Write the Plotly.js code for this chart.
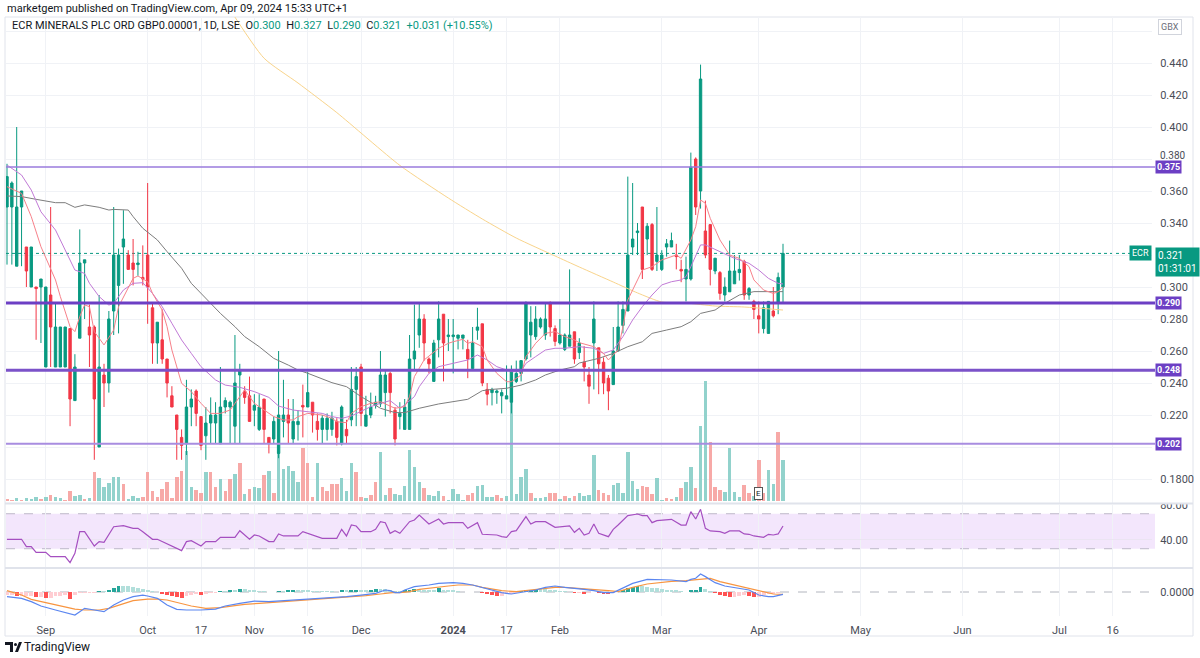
<!DOCTYPE html>
<html><head><meta charset="utf-8">
<script src="https://cdn.plot.ly/plotly-3.0.1.min.js"></script>
<style>html,body{margin:0;padding:0;background:#fff;}#chart{width:1200px;height:658px;}</style>
</head><body><div id="chart"></div>
<script>
// ---------------- DATA ----------------
const firstDay = '2023-08-21';
const holidays = ['2023-08-28','2023-12-25','2023-12-26','2024-01-01','2024-03-29','2024-04-01','2024-05-06','2024-05-27'];
const tickDates = ['2023-09-01','2023-10-02','2023-10-17','2023-11-01','2023-11-16','2023-12-01','2024-01-02','2024-01-17','2024-02-01','2024-03-01','2024-04-02','2024-05-01','2024-06-03','2024-07-01','2024-07-16'];
const tickText = ['Sep','Oct','17','Nov','16','Dec','<b>2024</b>','17','Feb','Mar','Apr','May','Jun','Jul','16'];

const open = [0.350,0.350,0.313,0.350,0.325,0.300,0.300,0.300,0.250,0.295,
0.250,0.250,0.250,0.274,0.229,0.268,0.315,0.275,0.275,0.200,
0.245,0.240,0.285,0.301,0.325,0.320,0.315,0.314,0.306,0.320,
0.287,0.265,0.267,0.255,0.232,0.220,0.206,0.202,0.225,0.235,
0.219,0.207,0.215,0.215,0.202,0.225,0.225,0.213,0.245,0.235,
0.232,0.223,0.211,0.230,0.206,0.205,0.196,0.216,0.220,0.205,
0.214,0.226,0.225,0.228,0.216,0.211,0.211,0.211,0.216,0.202,
0.211,0.217,0.236,0.250,0.213,0.220,0.226,0.227,0.234,0.246,
0.223,0.219,0.211,0.211,0.255,0.270,0.280,0.255,0.241,0.267,
0.283,0.269,0.269,0.268,0.268,0.261,0.249,0.273,0.277,0.236,
0.234,0.234,0.232,0.230,0.228,0.241,0.246,0.255,0.270,0.269,
0.275,0.270,0.290,0.274,0.265,0.261,0.263,0.272,0.259,0.253,
0.245,0.265,0.262,0.253,0.243,0.239,0.260,0.276,0.285,0.325,
0.334,0.350,0.330,0.339,0.316,0.311,0.325,0.325,0.320,0.311,
0.305,0.305,0.380,0.360,0.335,0.339,0.310,0.309,0.295,0.297,
0.302,0.309,0.316,0.295,0.291,0.282,0.274,0.271,0.285,0.290,
0.300];
const high = [0.377,0.366,0.400,0.360,0.325,0.325,0.300,0.305,0.300,0.350,
0.290,0.275,0.275,0.274,0.258,0.336,0.317,0.289,0.276,0.295,
0.252,0.285,0.350,0.324,0.348,0.323,0.330,0.322,0.326,0.365,
0.290,0.278,0.286,0.255,0.238,0.220,0.211,0.242,0.236,0.236,
0.219,0.225,0.231,0.228,0.250,0.231,0.229,0.270,0.252,0.238,
0.244,0.233,0.233,0.230,0.206,0.219,0.260,0.242,0.230,0.230,
0.223,0.239,0.247,0.228,0.221,0.220,0.221,0.222,0.218,0.226,
0.217,0.250,0.250,0.252,0.232,0.234,0.232,0.260,0.248,0.247,
0.225,0.228,0.230,0.270,0.289,0.290,0.283,0.256,0.267,0.291,
0.283,0.280,0.280,0.270,0.270,0.267,0.275,0.287,0.277,0.240,
0.237,0.236,0.236,0.251,0.251,0.254,0.254,0.291,0.288,0.288,
0.281,0.290,0.291,0.276,0.280,0.271,0.311,0.272,0.268,0.263,
0.250,0.291,0.262,0.256,0.245,0.275,0.291,0.291,0.369,0.365,
0.340,0.350,0.340,0.340,0.350,0.323,0.330,0.334,0.327,0.317,
0.319,0.384,0.381,0.439,0.354,0.339,0.318,0.310,0.306,0.329,
0.320,0.320,0.317,0.300,0.292,0.291,0.291,0.291,0.300,0.309,
0.327];
const low = [0.314,0.314,0.313,0.313,0.300,0.300,0.267,0.265,0.250,0.250,
0.250,0.250,0.250,0.213,0.229,0.268,0.280,0.250,0.192,0.200,
0.225,0.234,0.270,0.271,0.302,0.311,0.301,0.307,0.301,0.277,
0.252,0.252,0.252,0.231,0.225,0.192,0.192,0.195,0.213,0.213,
0.198,0.192,0.202,0.202,0.202,0.221,0.202,0.202,0.202,0.227,
0.216,0.213,0.210,0.202,0.196,0.202,0.193,0.206,0.202,0.202,
0.204,0.206,0.225,0.209,0.204,0.202,0.204,0.207,0.201,0.201,
0.202,0.213,0.213,0.213,0.213,0.218,0.224,0.225,0.219,0.221,
0.201,0.211,0.211,0.211,0.248,0.262,0.254,0.246,0.241,0.256,
0.241,0.260,0.246,0.261,0.261,0.243,0.249,0.267,0.238,0.226,
0.226,0.227,0.221,0.230,0.221,0.240,0.241,0.254,0.256,0.267,
0.274,0.267,0.269,0.263,0.264,0.260,0.263,0.252,0.255,0.241,
0.227,0.236,0.233,0.233,0.223,0.239,0.260,0.271,0.285,0.320,
0.320,0.305,0.320,0.310,0.310,0.310,0.319,0.325,0.311,0.303,
0.291,0.304,0.345,0.349,0.318,0.301,0.308,0.292,0.291,0.297,
0.302,0.304,0.292,0.292,0.280,0.271,0.271,0.271,0.281,0.283,
0.290];
const close = [0.369,0.365,0.350,0.360,0.310,0.325,0.299,0.305,0.300,0.275,
0.275,0.275,0.275,0.230,0.250,0.315,0.317,0.270,0.230,0.250,
0.240,0.280,0.320,0.320,0.330,0.311,0.311,0.315,0.305,0.300,
0.265,0.278,0.255,0.240,0.225,0.211,0.201,0.225,0.230,0.221,
0.201,0.215,0.220,0.220,0.225,0.229,0.228,0.240,0.248,0.231,
0.216,0.226,0.225,0.211,0.202,0.216,0.220,0.220,0.215,0.216,
0.216,0.225,0.234,0.220,0.211,0.218,0.218,0.218,0.206,0.225,
0.207,0.236,0.244,0.221,0.220,0.225,0.228,0.245,0.245,0.234,
0.205,0.221,0.225,0.255,0.260,0.280,0.265,0.252,0.265,0.280,
0.265,0.270,0.270,0.270,0.270,0.255,0.265,0.275,0.240,0.233,
0.236,0.235,0.234,0.232,0.248,0.246,0.254,0.290,0.278,0.280,
0.280,0.280,0.275,0.266,0.270,0.270,0.270,0.255,0.265,0.250,
0.238,0.280,0.252,0.240,0.235,0.260,0.275,0.286,0.320,0.330,
0.335,0.311,0.338,0.311,0.320,0.320,0.327,0.329,0.319,0.310,
0.311,0.375,0.350,0.430,0.320,0.311,0.318,0.296,0.300,0.310,
0.310,0.311,0.295,0.299,0.286,0.280,0.287,0.291,0.282,0.306,
0.321];

// volume (relative units) and its colour direction (1 = up, 0 = down)
const volume = [1.7,1,2.7,1,3.3,1.7,3.7,1.7,3.7,5.7,
4,2.7,1,9.7,5,5.7,1.7,2.7,29,22.7,
14.3,18.3,23.7,24.3,16.7,1.7,5,3,3.7,29.3,
9.7,3.7,11.7,19,2.7,24.3,30,50.3,13.7,10.7,
8.3,29.3,29,14.3,22.3,10,22.3,27,38,6.7,
11.7,13.7,13,26,30,8.3,48.3,32.3,35,30,
19.3,53.3,37.7,3.7,38.3,14.3,10,16.7,16.7,22.7,
9.7,37.7,29.3,4.3,2.7,5.7,19.3,49,5.7,13.3,
6.7,6,15,51,34,18.7,12.7,6,5.3,10,
5.3,1,12,7,1,6,7.7,15,15.7,3.7,
3.7,6,2.7,5,116,6.7,24.3,32,7.7,3.3,
2.7,3.7,8.3,8.3,1.7,5,3.3,5,8.3,5,
6,46,11,8.3,6,16,17.7,8.3,49,20.3,
12,15,14.3,6.7,23.3,1,3.3,1.7,4.3,13.3,
19.3,33.7,12.7,75,120,59.3,14.3,11,8.7,52.7,
9.3,4.3,16,8.3,5,41,8,31,17,69,
41];
const volUp = [0,0,1,0,1,1,1,0,1,0, 1,1,0,0,1,1,0,1,0,1,
1,1,1,1,0,1,1,1,0,0, 0,0,0,0,0,0,0,1,1,0,
0,1,0,0,1,0,0,1,0,1, 0,1,1,0,1,0,1,1,1,1,
1,0,0,0,1,0,0,0,0,1, 1,1,0,0,1,0,0,1,1,0,
1,1,1,1,1,1,0,1,1,1, 0,1,1,1,1,0,0,1,1,1,
1,0,0,1,1,1,1,1,0,1, 1,1,0,0,1,0,1,0,1,1,
1,1,0,0,0,1,1,1,1,1, 1,0,0,0,1,1,0,0,1,0,
1,1,0,1,1,0,0,0,1,1, 1,1,0,0,1,0,0,1,1,0,
1];

// moving averages (bar index, price), sampled at their visible vertices
const maFastX = [0,3,5,7,10,11,13,14,15,16,17,18,20,22,23,25,26,27,29,30,32,33,34,36,38,40,42,44,46,47,49,51,53,55,57,59,60,62,65,67,68,70,71,73,75,77,80,82,83,84,86,89,91,92,94,95,96,98,99,101,103,104,106,107,109,111,113,115,117,118,121,123,124,126,127,128,130,131,133,135,138,139,141,142,143,144,145,147,149,151,153,154,156,158,159,160];
const maFastV = [0.3627,0.3585,0.344,0.3252,0.3044,0.294,0.2752,0.2721,0.2815,0.2888,0.2877,0.2721,0.2638,0.2731,0.2877,0.2992,0.3054,0.3069,0.3033,0.296,0.2856,0.2752,0.2606,0.2398,0.2346,0.2273,0.221,0.221,0.2231,0.2273,0.2356,0.2273,0.2231,0.219,0.2169,0.2169,0.219,0.221,0.22,0.2179,0.2158,0.2152,0.221,0.2252,0.2273,0.2283,0.2242,0.2252,0.2315,0.244,0.2544,0.2617,0.2648,0.2658,0.2673,0.2648,0.2658,0.2627,0.2544,0.246,0.2408,0.2408,0.245,0.2565,0.2648,0.271,0.2721,0.269,0.2669,0.2652,0.2627,0.2585,0.2544,0.2606,0.2752,0.2919,0.3044,0.3106,0.3127,0.3169,0.32,0.3179,0.3294,0.3377,0.3544,0.3523,0.3429,0.3294,0.32,0.3179,0.3127,0.3044,0.2981,0.296,0.297,0.3002];
const maMidX = [0,3,5,7,10,12,14,16,17,19,21,22,24,26,28,30,32,34,36,38,40,43,45,48,51,54,56,59,62,65,67,69,71,73,75,77,79,81,82,84,85,87,89,92,95,97,99,101,104,106,107,109,111,113,115,118,121,123,125,127,129,131,133,135,137,139,140,141,143,144,147,150,153,155,157,159,160];
const maMidV = [0.3762,0.37,0.3606,0.347,0.3356,0.3231,0.3106,0.3085,0.3023,0.294,0.2887,0.2898,0.2981,0.3023,0.3027,0.296,0.2877,0.2773,0.2669,0.2585,0.2502,0.2419,0.2387,0.2373,0.2346,0.231,0.2256,0.2231,0.2221,0.221,0.219,0.2179,0.2194,0.2221,0.2252,0.2273,0.229,0.2242,0.2263,0.2315,0.2377,0.246,0.2502,0.2523,0.2544,0.2575,0.2544,0.2502,0.2471,0.2471,0.2523,0.2565,0.2606,0.2617,0.2617,0.2627,0.2617,0.2585,0.2606,0.269,0.2794,0.2877,0.295,0.3013,0.3033,0.3044,0.3065,0.3127,0.3263,0.3263,0.3221,0.3179,0.3148,0.3106,0.3054,0.3023,0.3019];
const maSlowX = [0,3,6,10,12,14,16,19,21,22,25,26,28,31,33,36,38,41,44,47,49,52,55,58,60,62,67,70,73,77,80,82,85,89,92,95,98,100,103,106,109,111,114,117,118,122,125,128,131,133,136,139,141,143,146,148,151,154,157,160];
const maSlowV = [0.3569,0.3565,0.3548,0.3527,0.3527,0.3498,0.3513,0.3498,0.3481,0.3485,0.3481,0.344,0.3367,0.3294,0.3221,0.3117,0.3023,0.2929,0.2835,0.2752,0.269,0.2627,0.2554,0.2512,0.2481,0.2461,0.2402,0.2377,0.2315,0.2242,0.2215,0.2215,0.2242,0.2269,0.2283,0.2298,0.2352,0.236,0.2367,0.2387,0.2419,0.245,0.2481,0.2502,0.2525,0.2554,0.2585,0.2627,0.2658,0.271,0.2731,0.2752,0.2783,0.2835,0.2856,0.2898,0.295,0.2971,0.2971,0.2971];
const maLongX = [45,53,60,68,81,91,98,105,113,118,125,130,135,140,146,152,160];
const maLongV = [0.478,0.443,0.4275,0.409,0.376,0.3556,0.3425,0.3306,0.3194,0.3125,0.3031,0.2963,0.2906,0.29,0.2881,0.2875,0.2856];

// key price levels
const levels = [0.375, 0.290, 0.248, 0.202];
const lastPrice = 0.321;

// RSI
const rsiX = [0,3,4,5,6,8,9,12,13,14,15,16,18,19,20,22,24,26,27,28,30,31,36,37,38,40,41,43,44,47,48,50,51,52,54,55,56,57,60,61,65,68,69,70,71,72,73,75,76,77,78,79,80,81,83,84,85,87,89,90,91,94,95,97,98,101,102,103,104,105,107,108,109,111,113,115,116,117,118,119,120,121,122,124,125,126,128,130,131,132,133,134,136,137,139,140,141,142,143,144,145,147,148,149,151,152,153,154,156,157,158,159,160];
const rsiV = [40.8,40.8,32.4,32.4,25.9,25.9,20.9,20.9,14.1,24.8,49.5,49.5,33.1,38.1,37.3,55.2,56.4,53.3,53.3,49.5,40.8,40.8,27.8,38.1,39.2,33.1,38.1,38.1,43.0,43.0,50.6,40.8,45.7,44.6,38.1,38.1,46.9,44.6,44.6,49.5,41.9,41.9,52.2,44.6,57.1,56,49.5,49.5,52.2,60.9,59.8,47.6,50.6,47.6,60.9,62.9,68.6,58.3,64,58.3,59.8,59.8,53.3,59.8,46.5,45.7,43.8,43,49.5,50.6,66.7,58.3,60.9,60.9,54.5,56,56,48.8,53.3,45.7,47.6,58.3,47.6,43.8,52.2,57.1,67.8,69.7,67.8,67.8,59.8,62.1,62.9,63.6,57.1,57.1,72.4,64,75.1,53.3,50.3,49.5,47.6,50.3,50.3,46.9,46.5,44.6,43,46.5,45.7,46.9,56];

// MACD (units of 0.001)
const macdX = [0,3,5,7,10,12,14,15,16,18,20,22,24,26,28,29,31,33,35,37,40,43,45,48,51,54,56,59,62,65,67,70,73,76,78,79,80,81,82,84,87,89,92,94,96,98,100,102,104,106,109,111,113,115,117,119,121,123,125,127,129,132,135,137,140,141,142,143,144,146,148,150,153,155,157,158,160];
const macdV = [-5.8,-7.9,-12.1,-17.5,-22.5,-25.8,-28.8,-24.6,-20.4,-22.5,-24.6,-16.3,-10,-5.8,-3.8,-5,-7.9,-16.3,-21.7,-22.5,-22.5,-21.3,-17.5,-14.2,-11.3,-12.1,-11.3,-10.8,-9.2,-7.9,-7.1,-5.8,-3.8,-1.7,2.5,1.7,-0.8,-0.8,2.5,6.7,8.75,10.8,11.7,10.8,8.75,5.8,2.5,-0.8,-2.5,-0.8,2.5,5.8,7.5,5.8,5,3.3,1.7,-0.8,-0.8,4.6,10.8,15.8,15.8,15,12.9,15.8,17.1,22.5,19.2,11.7,7.5,5.8,2.5,-3.75,-5.8,-5.8,-2.9];
const signalX = [0,3,5,8,11,14,16,19,21,23,26,29,31,33,36,38,41,44,47,49,52,55,58,60,63,66,69,71,74,77,79,80,81,83,85,88,91,93,96,98,100,102,105,107,110,113,115,118,121,124,126,129,132,135,137,140,143,145,147,150,153,156,158,160];
const signalV = [1.7,-3.8,-9.2,-13.3,-17.5,-21.3,-22.5,-22.5,-20.4,-16.3,-10.8,-8.8,-8.8,-10,-14.2,-17.5,-20.4,-19.6,-17.1,-15.4,-14.2,-12.9,-12.1,-10.8,-10,-8.8,-7.5,-5.8,-4.6,-2.5,-0.8,-0.4,-0.8,0.4,3.3,5.8,7.5,8.75,8.75,5.8,3.3,1.7,0.4,1.7,3.3,5.8,5.8,4.6,3.3,1.7,0.4,5.8,10,12.5,13.3,14.2,15.8,17.1,12.9,8.75,4.6,0.4,-2.5,-2.9];
const histV = [-3.75,-3.75,-5,-5,-5,-5,-6.25,-6.25,-7.5,-7.5,
-5,-5,-3.75,-8.75,-3.75,-1.25,-1.25,-1.25,-1.25,1.25,
1.25,2.5,4.6,7.5,7.5,7.5,6.25,5,3.75,2.5,
1.25,0.6,-2.5,-3.75,-5,-6.25,-7.5,-5,-3.75,-2.5,
-3.75,-2.5,-1.25,-1.25,1.25,1.25,2.5,2.5,3.75,3.75,
2.5,1.9,1.25,1.25,0.6,0.6,1.25,1.25,1.9,2.5,
2.5,2.5,2.5,1.25,1.25,1.25,1.25,1.25,0.6,1.9,
1.9,2.5,3.1,2.5,2.5,3.1,3.75,3.75,3.75,2.5,
1.25,
1.25,1.9,2.5,3.75,3.75,3.1,2.5,2.5,4.4,2.5,
1.9,1.9,1.25,0.6,0.6,-0.6,-0.6,-1.25,-2.5,-3.75,
-4.4,-4.4,-2.5,-2.5,-1.25,1.25,2.5,3.1,3.75,3.75,
3.75,2.5,1.9,1.25,1.25,0.6,-1.25,-1.25,-1.9,-1.25,
-0.6,-1.25,-1.9,-2.5,-1.25,0.6,2.5,5,6.25,7.5,
6.9,6.25,5,4.4,3.75,3.1,2.5,1.9,1.25,-0.6,
2.5,3.1,6.25,3.75,1.25,-1.25,-3.75,-5,-6.25,-6.25,
-5,-3.75,-5,-6.25,-6.25,-3.75,-2.5,-1.9,-1.25,-0.6];

// ---------------- calendar (trading days) ----------------
function tradingDays(start, count) {
  const out = []; const d = new Date(start + 'T00:00:00Z');
  while (out.length < count) {
    const s = d.toISOString().slice(0,10); const wd = d.getUTCDay();
    if (wd !== 0 && wd !== 6 && holidays.indexOf(s) < 0) out.push(s);
    d.setUTCDate(d.getUTCDate() + 1);
  }
  return out;
}
const cal = tradingDays(firstDay, 260);
const tickVals = tickDates.map(d => cal.indexOf(d));
const idx = close.map((_, i) => i);

// ---------------- geometry helpers ----------------
const W = 1200, H = 658;
const px = x => x / W, py = y => 1 - y / H;
const X0 = 6, X1 = 1152, BAR = 4.85, BAR0 = 7;
const xr = [(X0 - BAR0) / BAR, (X1 - BAR0) / BAR];
const PRICE_TOP = 17, PRICE_BOT = 503;
const RSI_TOP = 505, RSI_BOT = 567;
const MACD_TOP = 569, MACD_BOT = 616;
const FONT = 'Roboto, "Liberation Sans", Arial, sans-serif';
const TXT = '#4a4d57';
const UP = '#089981', DN = '#f23645';

// histogram colours (TradingView rule: grow/fall above/below zero)
const histColors = histV.map((v, i) => {
  const p = i > 0 ? histV[i-1] : v;
  if (v >= 0) return v > p ? '#26a69a' : '#b2dfdb';
  return v < p ? '#ff5252' : '#ffcdd2';
});

const traces = [
  { type:'bar', x: idx, y: volume, xaxis:'x', yaxis:'y', width:0.72,
    marker:{ color: volUp.map(u => u ? '#92d2cc' : '#f7a9a7'), line:{width:0} }, hoverinfo:'skip' },
  { type:'scatter', mode:'lines', x: maLongX, y: maLongV, xaxis:'x', yaxis:'y2', line:{color:'#f9d48b', width:1, shape:'spline', smoothing:0.6}, hoverinfo:'skip' },
  { type:'scatter', mode:'lines', x: maSlowX, y: maSlowV, xaxis:'x', yaxis:'y2', line:{color:'#7d7d7d', width:1}, hoverinfo:'skip' },
  { type:'scatter', mode:'lines', x: maMidX, y: maMidV, xaxis:'x', yaxis:'y2', line:{color:'#c17ad6', width:1}, hoverinfo:'skip' },
  { type:'scatter', mode:'lines', x: maFastX, y: maFastV, xaxis:'x', yaxis:'y2', line:{color:'#f7818a', width:1}, hoverinfo:'skip' },
  { type:'candlestick', x: idx, open: open, high: high, low: low, close: close, xaxis:'x', yaxis:'y2',
    increasing:{ line:{color:UP, width:1}, fillcolor:UP },
    decreasing:{ line:{color:DN, width:1}, fillcolor:DN }, whiskerwidth:0, hoverinfo:'skip' },
  { type:'scatter', mode:'lines', x: rsiX, y: rsiV, xaxis:'x', yaxis:'y3', line:{color:'#a54fc0', width:1.2}, hoverinfo:'skip' },
  { type:'bar', x: idx, y: histV, xaxis:'x', yaxis:'y4', width:0.8, marker:{color: histColors, line:{width:0}}, hoverinfo:'skip' },
  { type:'scatter', mode:'lines', x: signalX, y: signalV, xaxis:'x', yaxis:'y4', line:{color:'#f89540', width:1.2}, hoverinfo:'skip' },
  { type:'scatter', mode:'lines', x: macdX, y: macdV, xaxis:'x', yaxis:'y4', line:{color:'#5b86f0', width:1.2}, hoverinfo:'skip' }
];

const levelStyle = [
  {color:'#9a7bdc', width:1.5}, {color:'#6c3fc4', width:3}, {color:'#7b52c9', width:3}, {color:'#a88de0', width:2}
];

const shapes = [];
// frame
shapes.push({type:'rect', xref:'paper', yref:'paper', x0:px(5), x1:px(1193), y0:py(636), y1:py(17), line:{color:'#e0e3eb', width:1}, layer:'below'});
// RSI band and levels
shapes.push({type:'rect', xref:'paper', yref:'y3', x0:px(X0), x1:px(1155), y0:30, y1:70, fillcolor:'#f3e6fc', line:{width:0}, layer:'below'});
shapes.push({type:'line', xref:'paper', yref:'y3', x0:px(X0), x1:px(1155), y0:70, y1:70, line:{color:'#bdb8c8', width:1, dash:'dash'}, layer:'below'});
shapes.push({type:'line', xref:'paper', yref:'y3', x0:px(X0), x1:px(1155), y0:30, y1:30, line:{color:'#bdb8c8', width:1, dash:'dash'}, layer:'below'});
// MACD zero
shapes.push({type:'line', xref:'paper', yref:'y4', x0:px(X0), x1:px(X1), y0:0, y1:0, line:{color:'#b2b5be', width:1, dash:'dash'}, layer:'below'});
// last price dotted line
shapes.push({type:'line', xref:'paper', yref:'y2', x0:px(X0), x1:px(X1), y0:lastPrice, y1:lastPrice, line:{color:UP, width:1, dash:'dot'}, layer:'below'});
// horizontal levels
levels.forEach((lv, k) => shapes.push({type:'line', xref:'paper', yref:'y2', x0:px(X0), x1:px(1155), y0:lv, y1:lv, line:levelStyle[k], layer:'above'}));
// cover for clipped 80.00 label and pane separators
shapes.push({type:'rect', xref:'paper', yref:'paper', x0:px(1153), x1:px(1192), y0:py(504), y1:py(496), fillcolor:'#ffffff', line:{width:0}, layer:'above'});
[503.5, 568].forEach(y => shapes.push({type:'line', xref:'paper', yref:'paper', x0:px(5), x1:px(1193), y0:py(y), y1:py(y), line:{color:'#e0e3eb', width:2}, layer:'above'}));
// TradingView logo
function pathPx(pts){ return 'M' + pts.map(p => px(p[0]).toFixed(5) + ',' + py(p[1]).toFixed(5)).join(' L') + ' Z'; }
shapes.push({type:'path', xref:'paper', yref:'paper', path: pathPx([[5,642],[13,642],[13,652],[10,652],[10,645],[5,645]]), fillcolor:'#131722', line:{width:0}});
shapes.push({type:'circle', xref:'paper', yref:'paper', x0:px(14), x1:px(17), y0:py(646), y1:py(643), fillcolor:'#131722', line:{width:0}});
shapes.push({type:'path', xref:'paper', yref:'paper', path: pathPx([[19,642],[22,642],[18,652],[15,652]]), fillcolor:'#131722', line:{width:0}});

const teal = s => '<span style="color:#089981">' + s + '</span>';
const sp = '\u00a0\u00a0';
const annotations = [
  {xref:'paper', yref:'paper', x:px(5), y:py(8), xanchor:'left', yanchor:'middle', showarrow:false,
   text:'marketgem published on TradingView.com, Apr 09, 2024 15:33 UTC+1', font:{family:FONT, size:11, color:'#131722'}},
  {xref:'paper', yref:'paper', x:px(10), y:py(26), xanchor:'left', yanchor:'middle', showarrow:false,
   text:'ECR MINERALS PLC ORD GBP0.00001, 1D, LSE' + sp + 'O' + teal('0.300') + sp + 'H' + teal('0.327') + sp + 'L' + teal('0.290') + sp + 'C' + teal('0.321') + sp + teal('+0.031 (+10.55%)'),
   font:{family:FONT, size:11, color:'#131722'}},
  {xref:'paper', yref:'paper', x:px(1170), y:py(27), xanchor:'center', yanchor:'middle', showarrow:false,
   text:'GBX', font:{family:FONT, size:9, color:'#6a6d78'}, bordercolor:'#d1d4dc', borderwidth:1, borderpad:2, bgcolor:'#ffffff'},
  {xref:'paper', yref:'paper', x:px(22), y:py(647), xanchor:'left', yanchor:'middle', showarrow:false,
   text:'TradingView', font:{family:FONT, size:12, color:'#131722'}},
  {xref:'paper', yref:'y2', x:px(1152), y:lastPrice, xanchor:'right', yanchor:'middle', showarrow:false,
   text:'ECR', font:{family:FONT, size:9, color:'#ffffff'}, bgcolor:UP, borderpad:2},
  {xref:'paper', yref:'paper', x:px(1155), y:py(247), xanchor:'left', yanchor:'top', showarrow:false, align:'left',
   text:'0.321<br>01:31:01', font:{family:FONT, size:10, color:'#ffffff'}, bgcolor:UP, borderpad:2},
  {xref:'x', yref:'paper', x:155, y:py(493), xanchor:'center', yanchor:'middle', showarrow:false,
   text:'E', font:{family:FONT, size:8, color:'#131722'}, bgcolor:'#ffffff', bordercolor:'#555', borderwidth:1, borderpad:1},
  // price label squeezed above the 0.375 level box
  {xref:'paper', yref:'paper', x:px(1158), y:py(155.5), xanchor:'left', yanchor:'middle', showarrow:false,
   text:'0.380', font:{family:FONT, size:10, color:TXT}}
];
levels.forEach(lv => annotations.push({xref:'paper', yref:'y2', x:px(1155), y:lv, xanchor:'left', yanchor:'middle', showarrow:false,
  text:'<b>' + lv.toFixed(3) + '</b>', font:{family:FONT, size:9, color:'#ffffff'}, bgcolor:'#6c3fc4', borderpad:1}));

const priceTicks = [0.18,0.20,0.22,0.24,0.26,0.28,0.30,0.32,0.34,0.36,0.38,0.40,0.42,0.44,0.46];
const priceText = ['0.1800','','0.220','0.240','0.260','0.280','0.300','','0.340','0.360','','0.400','0.420','0.440',''];

const axFont = {family:FONT, size:11, color:TXT};
const layout = {
  width:W, height:H, margin:{l:0, r:0, t:0, b:0},
  paper_bgcolor:'#ffffff', plot_bgcolor:'#ffffff', showlegend:false, bargap:0,
  xaxis:{domain:[px(X0), px(X1)], anchor:'y4', range:xr, tickmode:'array', tickvals:tickVals, ticktext:tickText,
         showgrid:true, gridcolor:'#f0f2f6', gridwidth:1, zeroline:false, showline:false,
         ticks:'outside', ticklen:4, tickcolor:'rgba(0,0,0,0)', tickfont:axFont, rangeslider:{visible:false}, fixedrange:true},
  yaxis:{domain:[py(PRICE_BOT), py(PRICE_TOP)], range:[-2, 484], visible:false, fixedrange:true},
  yaxis2:{overlaying:'y', side:'right', anchor:'x', range:[0.165, 0.46875], tickmode:'array', tickvals:priceTicks, ticktext:priceText,
          showgrid:true, gridcolor:'#f0f2f6', zeroline:false, showline:false, ticks:'outside', ticklen:5, tickcolor:'rgba(0,0,0,0)', tickfont:axFont, fixedrange:true},
  yaxis3:{domain:[py(RSI_BOT), py(RSI_TOP)], anchor:'x', side:'right', range:[9.1, 80], tickmode:'array', tickvals:[40,80], ticktext:['40.00','80.00'],
          showgrid:true, gridcolor:'#ebe4f2', zeroline:false, showline:false, ticks:'outside', ticklen:5, tickcolor:'rgba(0,0,0,0)', tickfont:axFont, fixedrange:true},
  yaxis4:{domain:[py(MACD_BOT), py(MACD_TOP)], anchor:'x', side:'right', range:[-30, 28.75], tickmode:'array', tickvals:[0], ticktext:['0.0000'],
          showgrid:false, zeroline:false, showline:false, ticks:'outside', ticklen:5, tickcolor:'rgba(0,0,0,0)', tickfont:axFont, fixedrange:true},
  shapes: shapes, annotations: annotations
};

Plotly.newPlot('chart', traces, layout, {staticPlot:true, displayModeBar:false});
</script></body></html>
